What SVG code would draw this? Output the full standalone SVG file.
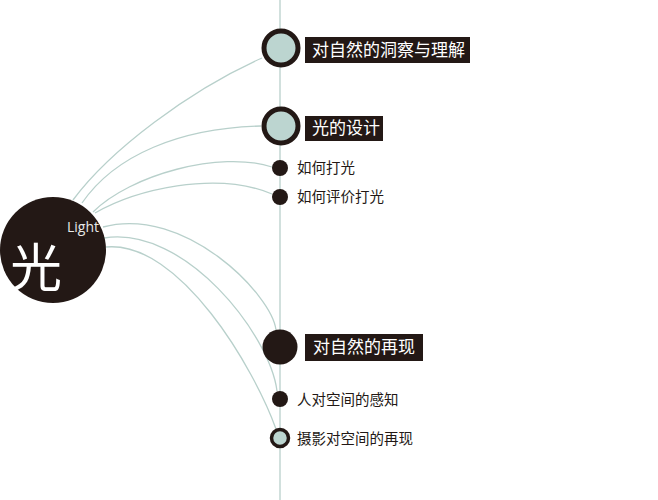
<svg xmlns="http://www.w3.org/2000/svg" width="658" height="500" viewBox="0 0 658 500">
<style>
.ln{fill:none;stroke:#b8d0cb;stroke-width:1.3}
.ring{fill:#bcd5d0;stroke:#231815;stroke-width:5}
.dot{fill:#231815}
.box{fill:#231815}
.lbl{font-family:"Noto Sans CJK SC","Noto Sans",sans-serif;font-size:17px;fill:#ffffff}
.sub{font-family:"Noto Sans CJK SC","Noto Sans",sans-serif;font-size:14.5px;fill:#231815}
</style>
<rect width="658" height="500" fill="#ffffff"/>
<g id="connectors">
<line class="ln" x1="280" y1="0" x2="280" y2="500"/>
<path class="ln" d="M73,200 C110,150 190,90 262,58"/>
<path class="ln" d="M82,203 C115,155 180,128 261,126"/>
<path class="ln" d="M93,212 C130,175 220,150 272,167"/>
<path class="ln" d="M95,213 C135,190 215,170 272,194"/>
<path class="ln" d="M103,227 C185,205 272,295 276,330"/>
<path class="ln" d="M104,238 C185,225 270,335 277,391"/>
<path class="ln" d="M106,247 C180,240 255,370 276,429"/>
</g>
<g id="center">
<circle cx="53" cy="250" r="53" fill="#231815"/>
<text x="67" y="232" font-family="Open Sans, sans-serif" font-size="14" fill="#e8e8e8">Light</text>
<text x="10" y="287" font-family="Noto Sans CJK SC, sans-serif" font-size="52" fill="#ffffff">光</text>
</g>
<g id="n1">
<circle class="ring" cx="281" cy="48" r="17"/>
<rect class="box" x="305" y="37" width="165" height="26"/>
<text class="lbl" x="312" y="56">对自然的洞察与理解</text>
</g>
<g id="n2">
<circle class="ring" cx="281" cy="126" r="17"/>
<rect class="box" x="305" y="116" width="78" height="25"/>
<text class="lbl" x="312" y="134">光的设计</text>
</g>
<g id="n3">
<circle class="dot" cx="280" cy="168" r="8"/>
<text class="sub" x="297" y="173">如何打光</text>
</g>
<g id="n4">
<circle class="dot" cx="280" cy="197" r="8"/>
<text class="sub" x="297" y="202">如何评价打光</text>
</g>
<g id="n5">
<circle class="dot" cx="280" cy="347" r="17.5"/>
<rect class="box" x="305" y="334" width="118" height="27"/>
<text class="lbl" x="313" y="353">对自然的再现</text>
</g>
<g id="n6">
<circle class="dot" cx="280" cy="399" r="8"/>
<text class="sub" x="297" y="405">人对空间的感知</text>
</g>
<g id="n7">
<circle cx="280" cy="438" r="8.5" fill="#bcd5d0" stroke="#231815" stroke-width="3.5"/>
<text class="sub" x="297" y="444">摄影对空间的再现</text>
</g>
</svg>
